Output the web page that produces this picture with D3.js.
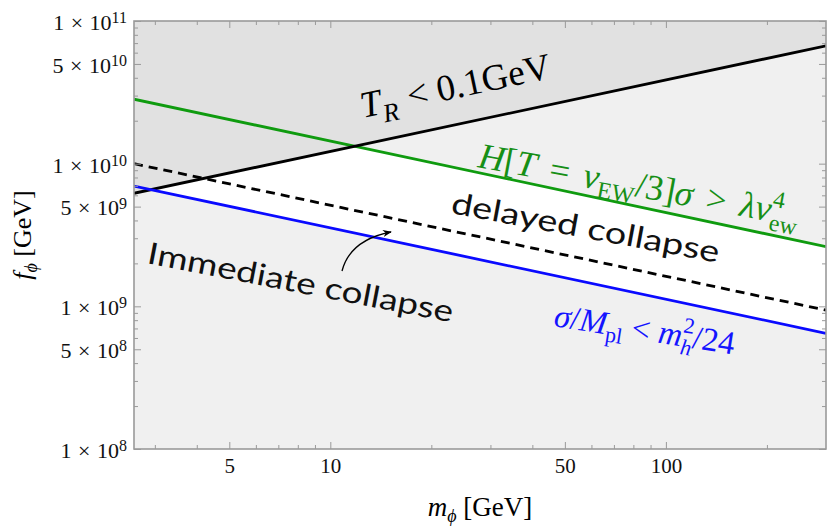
<!DOCTYPE html>
<html>
<head>
<meta charset="utf-8">
<script src="https://cdn.jsdelivr.net/npm/d3@7"></script>
<style>
  body { margin: 0; background: #fff; }
  svg text { font-family: "Liberation Serif", "Times New Roman", serif; }
</style>
</head>
<body>
<svg id="chart" width="834" height="530"></svg>
<script>
// m_phi endpoints of each bound (GeV) and f_phi at those endpoints (GeV)
const mPhi = [2.6, 300];
const reheatLimit = [6.2e9, 6.7e10];     // T_R < 0.1 GeV
const hubbleLimit = [2.83e10, 2.62e9];   // H[T = v_EW/3] sigma > lambda v^4
const collapseLimit = [1.0e10, 9.4e8];   // delayed / immediate boundary
const tensionLimit = [6.97e9, 6.47e8];   // sigma/M_pl < m_h^2/24

const xMajor = [5, 10, 50, 100];
const xMinor = [3, 4, 6, 7, 8, 9, 20, 30, 40, 60, 70, 80, 90, 200];
const yMajor = [1e8, 5e8, 1e9, 5e9, 1e10, 5e10, 1e11];
const yMinor = [2e8, 3e8, 4e8, 6e8, 7e8, 8e8, 9e8,
                2e9, 3e9, 4e9, 6e9, 7e9, 8e9, 9e9,
                2e10, 3e10, 4e10, 6e10, 7e10, 8e10, 9e10];

const margin = { top: 21, right: 8, bottom: 81, left: 134 };
const width = 834 - margin.left - margin.right;
const height = 530 - margin.top - margin.bottom;

const svg = d3.select('#chart');
const defs = svg.append('defs');

const x = d3.scaleLog().domain([2.6, 300]).range([0, width]);
const y = d3.scaleLog().domain([1e8, 1e11]).range([height, 0]);

const pts = s => mPhi.map((m, i) => ({ m, v: s[i] }));
const line = d3.line().x(d => x(d.m)).y(d => y(d.v));

const g = svg.append('g').attr('transform', `translate(${margin.left},${margin.top})`);

defs.append('clipPath').attr('id', 'plot-clip')
    .append('rect').attr('width', width).attr('height', height);

// everything below the reheating line
defs.append('clipPath').attr('id', 'below-reheat')
    .append('path')
    .attr('d', d3.area().x(d => x(d.m)).y0(height).y1(d => y(d.v))(pts(reheatLimit)));

const plot = g.append('g').attr('clip-path', 'url(#plot-clip)');

plot.append('rect').attr('width', width).attr('height', height).attr('fill', '#f0f0f0');

plot.append('path')
    .attr('d', d3.area().x(d => x(d.m)).y0(0).y1(d => y(d.v))(pts(reheatLimit)))
    .attr('fill', '#e1e1e1');

// allowed window: above the tension bound, below the hubble bound and the reheating line
plot.append('path')
    .attr('clip-path', 'url(#below-reheat)')
    .attr('d', d3.area()
        .x(m => x(m))
        .y0((m, i) => y(tensionLimit[i]))
        .y1((m, i) => y(hubbleLimit[i]))(mPhi))
    .attr('fill', '#ffffff');

plot.append('path').attr('d', line(pts(hubbleLimit)))
    .attr('fill', 'none').attr('stroke', '#0f9b0f').attr('stroke-width', 2.8);
plot.append('path').attr('d', line(pts(reheatLimit)))
    .attr('fill', 'none').attr('stroke', '#000').attr('stroke-width', 2.8);
plot.append('path').attr('d', line(pts(collapseLimit)))
    .attr('fill', 'none').attr('stroke', '#000').attr('stroke-width', 2.8)
    .attr('stroke-dasharray', '9,6');
plot.append('path').attr('d', line(pts(tensionLimit)))
    .attr('fill', 'none').attr('stroke', '#0a0aff').attr('stroke-width', 2.8);

// frame + ticks on all four sides, pointing inward
const tickColor = '#9a9a9a';
function frameAxis(axis, transform) {
    const a = g.append('g').attr('transform', transform).call(axis)
        .attr('font-family', null).attr('font-size', null);
    a.select('.domain').remove();
    a.selectAll('line').attr('stroke', tickColor).attr('stroke-width', 1);
    a.selectAll('text').attr('fill', '#111').style('font-size', '21px');
    return a;
}

frameAxis(d3.axisBottom(x).tickValues(xMajor).tickSize(-7).tickPadding(9).tickFormat(d3.format('d')),
    `translate(0,${height})`);
frameAxis(d3.axisBottom(x).tickValues(xMinor).tickSize(-4).tickFormat(''), `translate(0,${height})`);
frameAxis(d3.axisTop(x).tickValues(xMajor).tickSize(-7).tickFormat(''), 'translate(0,0)');
frameAxis(d3.axisTop(x).tickValues(xMinor).tickSize(-4).tickFormat(''), 'translate(0,0)');

const yLeft = frameAxis(d3.axisLeft(y).tickValues(yMajor).tickSize(-7).tickPadding(7).tickFormat(''),
    'translate(0,0)');
frameAxis(d3.axisLeft(y).tickValues(yMinor).tickSize(-4).tickFormat(''), 'translate(0,0)');
frameAxis(d3.axisRight(y).tickValues(yMajor).tickSize(-7).tickFormat(''), `translate(${width},0)`);
frameAxis(d3.axisRight(y).tickValues(yMinor).tickSize(-4).tickFormat(''), `translate(${width},0)`);

yLeft.selectAll('.tick text').style('font-size', '22px').attr('dy', '0.38em').each(function (d) {
    const t = d3.select(this);
    const e = Math.floor(Math.log10(d) + 1e-9);
    const mant = Math.round(d / Math.pow(10, e));
    t.append('tspan').text(mant);
    t.append('tspan').attr('dx', 1).text(' × ');
    t.append('tspan').attr('dx', 1).text('10');
    t.append('tspan').attr('dy', '-0.42em').style('font-size', '16px').text(e);
});

g.append('rect').attr('width', width).attr('height', height)
    .attr('fill', 'none').attr('stroke', tickColor).attr('stroke-width', 1.6);

// axis titles
const xTitle = svg.append('text')
    .attr('x', margin.left + width / 2).attr('y', 516)
    .attr('text-anchor', 'middle').style('font-size', '27px');
xTitle.append('tspan').style('font-style', 'italic').text('m');
xTitle.append('tspan').attr('dy', 6).style('font-size', '18px').style('font-style', 'italic').text('ϕ');
xTitle.append('tspan').attr('dy', -6).text(' [GeV]');

const yTitle = svg.append('text')
    .attr('transform', `translate(31,${margin.top + height / 2}) rotate(-90)`)
    .attr('text-anchor', 'middle').style('font-size', '26px');
yTitle.append('tspan').style('font-style', 'italic').text('f');
yTitle.append('tspan').attr('dy', 6).style('font-size', '18px').style('font-style', 'italic').text('ϕ');
yTitle.append('tspan').attr('dy', -6).text(' [GeV]');

// labels along the bounds
const angleOf = s => Math.atan2(y(s[1]) - y(s[0]), x(mPhi[1]) - x(mPhi[0])) * 180 / Math.PI;

function mathLabel(px, py, angle, size, color, parts) {
    const t = svg.append('text')
        .attr('transform', `translate(${px},${py}) rotate(${angle})`)
        .attr('fill', color).style('font-size', size + 'px');
    parts.forEach(p => {
        const s = t.append('tspan').text(p.t);
        if (p.i) s.style('font-style', 'italic');
        if (p.fs) s.style('font-size', p.fs + 'px');
        if (p.dy) s.attr('dy', p.dy);
        if (p.dx) s.attr('dx', p.dx);
    });
    return t;
}

mathLabel(363, 118, angleOf(reheatLimit), 37, '#000', [
    { t: 'T', i: 1 }, { t: 'R', i: 1, fs: 26, dy: 9 }, { t: ' < 0.1GeV', dx: 2, dy: -9 }
]);

mathLabel(477, 167, 10.5, 36, '#168f16', [
    { t: 'H', i: 1 }, { t: '[' }, { t: 'T', i: 1 }, { t: ' = ', dx: 5 }, { t: 'v', i: 1, dx: 5 },
    { t: 'EW', fs: 24, dy: 8 }, { t: '/3]', dy: -8 }, { t: 'σ', i: 1 }, { t: ' > ', dx: 5 },
    { t: 'λv', i: 1, dx: 5 }, { t: '4', fs: 24, dy: -15 }, { t: 'ew', fs: 24, dx: -12, dy: 24 }
]);

mathLabel(553, 326, 9, 33, '#1414ff', [
    { t: 'σ', i: 1 }, { t: '/' }, { t: 'M', i: 1 }, { t: 'pl', fs: 22, dy: 7 },
    { t: ' < ', dy: -7 }, { t: 'm', i: 1 }, { t: '2', fs: 22, dy: -14 },
    { t: 'h', i: 1, fs: 22, dx: -11, dy: 22 }, { t: '/24', dy: -8 }
]);

function plainLabel(px, py, angle, len, txt) {
    return svg.append('text')
        .attr('transform', `translate(${px},${py}) rotate(${angle})`)
        .attr('textLength', len).attr('lengthAdjust', 'spacingAndGlyphs')
        .style('font-family', 'Lato, "Open Sans", sans-serif').style('font-size', '30px')
        .attr('fill', '#111').text(txt);
}
plainLabel(450, 213, 10.5, 272, 'delayed collapse');
plainLabel(146, 263, 11, 311, 'Immediate collapse');

// arrow pointing at the dashed boundary
defs.append('marker').attr('id', 'head')
    .attr('viewBox', '0 0 10 10').attr('refX', 9).attr('refY', 5)
    .attr('markerUnits', 'userSpaceOnUse').attr('markerWidth', 9).attr('markerHeight', 9)
    .attr('orient', 'auto')
    .append('path').attr('d', 'M0,1 L10,5 L0,9 L3,5 z').attr('fill', '#000');

svg.append('path')
    .attr('d', 'M342,271 Q350,240 391,232')
    .attr('fill', 'none').attr('stroke', '#000').attr('stroke-width', 1.3)
    .attr('marker-end', 'url(#head)');
</script>
</body>
</html>
